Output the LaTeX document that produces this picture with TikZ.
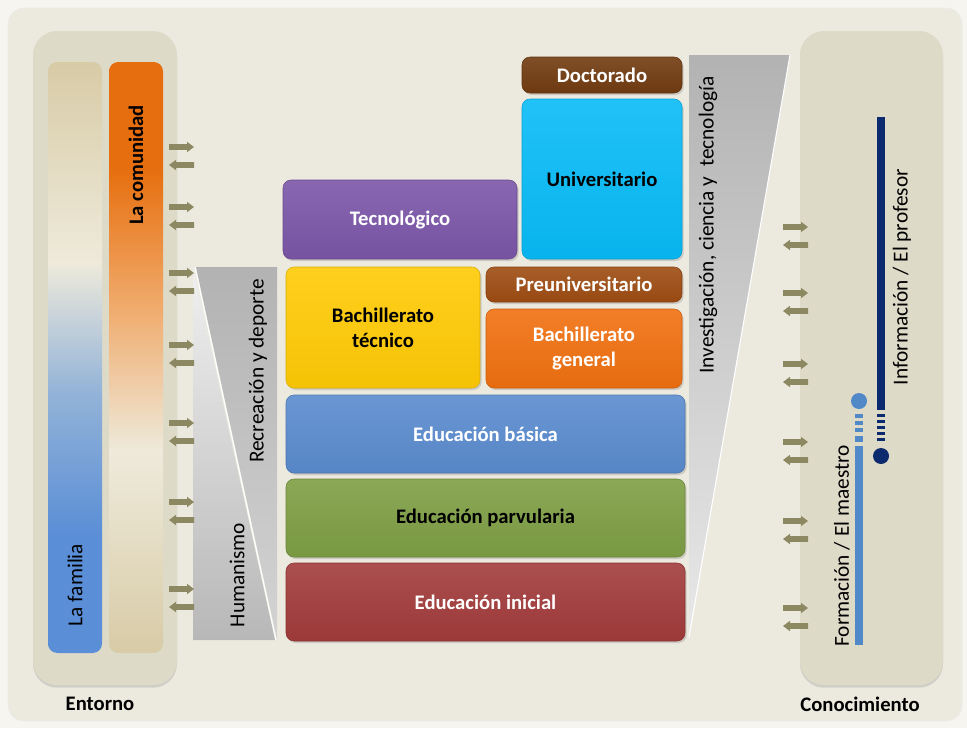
\documentclass[tikz,border=0pt]{standalone}
\usepackage{fontspec}
\setmainfont{Carlito}
\usetikzlibrary{shadows}
\definecolor{bgout}{HTML}{F6F5EF}
\definecolor{bgin}{HTML}{ECEADF}
\definecolor{panelc}{HTML}{DEDAC8}
\definecolor{arrowc}{HTML}{8C8861}
\definecolor{doct}{HTML}{713B10}
\definecolor{univ}{HTML}{08BBF7}
\definecolor{tecno}{HTML}{7B56A8}
\definecolor{bachtec}{HTML}{FFCA05}
\definecolor{preuni}{HTML}{9E4C12}
\definecolor{bachgen}{HTML}{F07010}
\definecolor{basica}{HTML}{5A8BCE}
\definecolor{parv}{HTML}{7E9E44}
\definecolor{inicial}{HTML}{A23B3B}
\definecolor{navy}{HTML}{0C2B6E}
\definecolor{lblue}{HTML}{5088C8}
\definecolor{famblue}{HTML}{5A8ED6}
\definecolor{famlb}{HTML}{93B3D8}
\definecolor{pale}{HTML}{EEEADB}
\definecolor{tan}{HTML}{D8CBA6}
\definecolor{comor}{HTML}{E66E0E}
\definecolor{comlo}{HTML}{F0A766}
\pgfdeclareverticalshading{familia}{100bp}{color(0bp)=(famblue); color(25bp)=(famblue); color(35bp)=(famblue); color(47bp)=(famlb); color(58bp)=(pale); color(75bp)=(tan); color(100bp)=(tan)}
\pgfdeclareverticalshading{comunidad}{100bp}{color(0bp)=(tan); color(25bp)=(tan); color(42bp)=(pale); color(55bp)=(comlo); color(66bp)=(comor); color(75bp)=(comor); color(100bp)=(comor)}
\tikzset{
  box/.style={rounded corners=6pt, inner sep=0pt, top color=#1!90!white, bottom color=#1!96!black,
    draw=#1!85!black, line width=0.4pt, align=center,
    drop shadow={shadow xshift=1.2pt, shadow yshift=-1.5pt, opacity=0.3},
    font=\fontsize{15.5}{19}\selectfont\bfseries},
  panel/.style={rounded corners=18pt, fill=panelc,
    drop shadow={shadow xshift=0pt, shadow yshift=-2pt, opacity=0.25}},
  vlab/.style={rotate=90, font=\fontsize{16}{18}\selectfont},
  blab/.style={font=\fontsize{15.5}{18}\selectfont\bfseries},
  rarr/.pic={\fill[arrowc] (0,-2.8) -- (18,-2.8) -- (18,-5.2) -- (25,0) -- (18,5.2) -- (18,2.8) -- (0,2.8) -- cycle;},
  larr/.pic={\fill[arrowc] (25,-2.8) -- (7,-2.8) -- (7,-5.2) -- (0,0) -- (7,5.2) -- (7,2.8) -- (25,2.8) -- cycle;}
}
\begin{document}
\begin{tikzpicture}[x=0.75pt,y=-0.75pt]
\useasboundingbox (0,0) rectangle (967,728);
\fill[bgout] (0,0) rectangle (967,728);
\filldraw[fill=bgin, draw=black!8, rounded corners=12pt] (8,8) rectangle (962,721);
% side panels
\path[panel] (33,31) rectangle (177,685);
\path[panel] (800,31) rectangle (943,685);
% left bars
\path[shading=familia, rounded corners=7pt] (48,62) rectangle (102,653);
\path[shading=comunidad, rounded corners=7pt] (109,62) rectangle (163,653);
\node[vlab] (familia) at (75,585) {La familia};
\node[vlab, font=\fontsize{15.5}{18}\selectfont\bfseries] (comunidad) at (136,165) {La comunidad};
% left funnel
\path[top color=black!30, bottom color=black!17] (196,267) -- (277,267) -- (277,640) -- cycle;
\path[top color=black!6, bottom color=black!28] (193,267) -- (275,640) -- (193,640) -- cycle;
\draw[white, line width=0.8pt] (195,267) -- (276,640);
\node[vlab] (recre) at (258,371) {Recreación y deporte};
\node[vlab] (human) at (237,575) {Humanismo};
% right funnel
\path[top color=black!30, bottom color=black!9] (689,55) -- (790,55) -- (689,637) -- cycle;
\draw[white, line width=0.8pt] (790,55) -- (689,637);
\node[vlab] (invest) at (708,225) {Investigación, ciencia y \ tecnología};
% boxes
\node[box=doct, text=white, minimum width=120pt, minimum height=27pt] (doctorado) at (602,75) {Doctorado};
\node[box=univ, text=black, minimum width=120pt, minimum height=120pt] (universitario) at (602,179) {Universitario};
\node[box=tecno, text=white, minimum width=175.5pt, minimum height=59.25pt] (tecnologico) at (400,219.5) {Tecnológico};
\node[box=bachtec, text=black, minimum width=145.5pt, minimum height=90.75pt] (bachtecnico) at (383,327.5) {Bachillerato\\técnico};
\node[box=preuni, text=white, minimum width=147pt, minimum height=26.25pt] (preuniversitario) at (584,284.5) {Preuniversitario};
\node[box=bachgen, text=white, minimum width=147pt, minimum height=59.25pt] (bachgeneral) at (584,348.5) {Bachillerato\\general};
\node[box=basica, text=white, minimum width=299.25pt, minimum height=58.5pt] (basica) at (485.5,434) {Educación básica};
\node[box=parv, text=black, minimum width=299.25pt, minimum height=58.5pt] (parvularia) at (485.5,518) {Educación parvularia};
\node[box=inicial, text=white, minimum width=299.25pt, minimum height=58.5pt] (inicial) at (485.5,602) {Educación inicial};
% left arrows
\foreach \y in {147,207,273,345,423,502,589}{
  \pic at (169,\y) {rarr};
  \pic at (169,\y+18) {larr};
}
% right arrows
\foreach \y in {227,293,364,442,521,608}{
  \pic at (783,\y) {rarr};
  \pic at (783,\y+18) {larr};
}
% right panel lines
\fill[navy] (877,117) rectangle (885,410);
\foreach \d in {414,420,426,432,438}{\fill[navy] (877,\d) rectangle (885,\d+3);}
\node[circle, fill=navy, minimum size=12pt, inner sep=0pt] (navydot) at (881,456) {};
\node[circle, fill=lblue, minimum size=12pt, inner sep=0pt] (bluedot) at (859,401) {};
\foreach \d in {414,421,428}{\fill[lblue] (855,\d) rectangle (863,\d+3.5);}
\fill[lblue] (855,436) rectangle (863,442);
\fill[lblue] (855,446) rectangle (863,645);
\node[vlab] (informacion) at (902,277) {Información / El profesor};
\node[vlab] (formacion) at (842,546) {Formación / El maestro};
% bottom labels
\node[blab] (entornolab) at (100,704) {Entorno};
\node[blab] (conoclab) at (860,704) {Conocimiento};
\end{tikzpicture}
\end{document}
